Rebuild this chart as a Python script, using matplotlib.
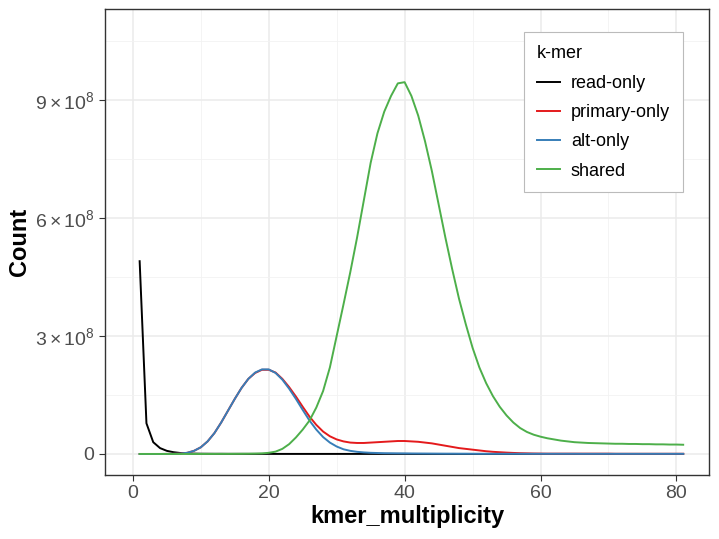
import matplotlib
matplotlib.use('Agg')
import matplotlib.pyplot as plt
from matplotlib.ticker import FixedLocator

plt.rcParams['font.family'] = ['Liberation Sans', 'DejaVu Sans']
plt.rcParams['mathtext.fontset'] = 'custom'
plt.rcParams['mathtext.rm'] = 'Liberation Sans'
plt.rcParams['mathtext.it'] = 'Liberation Sans:italic'
plt.rcParams['mathtext.bf'] = 'Liberation Sans:bold'

# k-mer multiplicity 1..81, counts in units of 1e8
kmer_x = list(range(1, 82))

read_only = [4.9, 0.78, 0.3, 0.15, 0.08, 0.045, 0.025, 0.015, 0.01, 0.007,
             0.006, 0.005, 0.005, 0.004, 0.004, 0.004, 0.003, 0.003, 0.003, 0.003] + [0.002] * 20 + [0.001] * 41

alt_only = [0, 0, 0, 0, 0.002, 0.005, 0.01, 0.03, 0.08, 0.17,
            0.32, 0.53, 0.80, 1.10, 1.40, 1.68, 1.91, 2.07, 2.15, 2.15,
            2.06, 1.89, 1.66, 1.40, 1.12, 0.85, 0.62, 0.43, 0.29, 0.19,
            0.12, 0.08, 0.055, 0.04, 0.03, 0.025, 0.02, 0.018, 0.016, 0.015,
            0.013, 0.012, 0.011, 0.01, 0.009, 0.008, 0.008, 0.007, 0.007, 0.006] + [0.005] * 15 + [0.004] * 16

primary_only = [0, 0, 0, 0, 0.002, 0.005, 0.01, 0.03, 0.08, 0.17,
                0.32, 0.53, 0.80, 1.10, 1.40, 1.68, 1.91, 2.06, 2.14, 2.14,
                2.07, 1.91, 1.70, 1.46, 1.20, 0.95, 0.74, 0.57, 0.45, 0.37,
                0.32, 0.29, 0.28, 0.28, 0.29, 0.30, 0.31, 0.32, 0.33, 0.33,
                0.32, 0.31, 0.29, 0.27, 0.24, 0.21, 0.18, 0.15, 0.13, 0.11,
                0.09, 0.07, 0.055, 0.045, 0.035, 0.027, 0.02, 0.016, 0.012, 0.01] + [0.008] * 10 + [0.005] * 11

shared = [0.001] * 10 + [0.002, 0.002, 0.003, 0.003, 0.004, 0.005, 0.007, 0.01, 0.015, 0.03,
          0.06, 0.13, 0.25, 0.42, 0.62, 0.85, 1.18, 1.6, 2.2, 3.0,
          3.8, 4.62, 5.5, 6.45, 7.4, 8.15, 8.7, 9.1, 9.42, 9.45,
          9.1, 8.6, 7.95, 7.2, 6.35, 5.5, 4.7, 3.95, 3.3, 2.7,
          2.2, 1.8, 1.47, 1.2, 0.98, 0.8, 0.66, 0.56, 0.49, 0.44,
          0.40, 0.37, 0.34, 0.32, 0.30, 0.29, 0.28, 0.275, 0.27, 0.265,
          0.26, 0.26, 0.255, 0.255, 0.25, 0.25, 0.245, 0.245, 0.24, 0.24, 0.235]

series_names = ['read-only', 'primary-only', 'alt-only', 'shared']
series_colors = ['black', '#E41A1C', '#377EB8', '#4DAF4A']

y_ticks = [0, 3e8, 6e8, 9e8]
y_tick_labels = ['0', r'$3\times10^{8}$', r'$6\times10^{8}$', r'$9\times10^{8}$']
x_ticks = [0, 20, 40, 60, 80]

fig = plt.figure(figsize=(7.19, 5.39), dpi=100)
ax = fig.add_axes([105 / 719, 1 - 475 / 539, 604 / 719, 466 / 539])

all_series = [read_only, primary_only, alt_only, shared]
for name, vals, col in zip(series_names, all_series, series_colors):
    ax.plot(kmer_x, [v * 1e8 for v in vals], color=col, lw=1.4, label=name)

ax.set_xlim(-4.1, 84.8)
ax.set_ylim(-0.534e8, 11.31e8)

ax.set_xticks(x_ticks)
ax.set_yticks(y_ticks)
ax.set_yticklabels(y_tick_labels)
ax.xaxis.set_minor_locator(FixedLocator([10, 30, 50, 70]))
ax.yaxis.set_minor_locator(FixedLocator([1.5e8, 4.5e8, 7.5e8, 10.5e8]))

ax.grid(which='major', color='#EBEBEB', lw=1.1)
ax.grid(which='minor', color='#F2F2F2', lw=0.6)
ax.set_axisbelow(True)

for sp in ax.spines.values():
    sp.set_color('#333333')
    sp.set_linewidth(1.0)

ax.tick_params(which='major', length=4, color='#333333', labelcolor='#4D4D4D', labelsize=14)
ax.tick_params(which='minor', length=0)

ax.set_xlabel('kmer_multiplicity', fontsize=17, fontweight='bold', labelpad=2)
ax.set_ylabel('Count', fontsize=17, fontweight='bold', labelpad=3)

leg = ax.legend(title='k-mer', loc='upper left', bbox_to_anchor=(524 / 719, 1 - 32 / 539),
                bbox_transform=fig.transFigure, fontsize=13, title_fontsize=13,
                fancybox=False, edgecolor='#BBBBBB', framealpha=1,
                handlelength=1.3, handletextpad=0.6, labelspacing=0.68,
                borderpad=0.7, borderaxespad=0)
leg._legend_box.align = 'left'
# a bit more room between title and first entry
leg._legend_box.sep = 9.5
leg.get_frame().set_linewidth(0.8)

fig.savefig('out.png', dpi=100)
